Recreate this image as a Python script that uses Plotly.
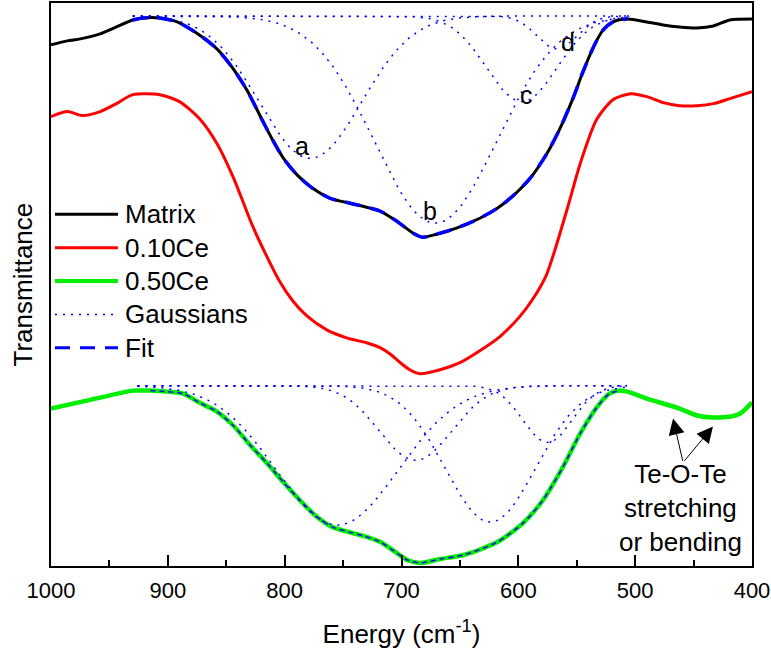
import numpy as np
import plotly.graph_objects as go

# ---------------- data ----------------
energy_matrix = [1000, 986, 975, 958, 944, 930, 921, 907, 892, 873, 858, 844, 832, 819, 810, 801,
                 789, 776, 761, 744, 733, 718, 704, 690, 682, 670, 653, 633, 618, 605, 590, 576,
                 564, 553, 545, 536, 528, 519, 507, 490, 476, 462, 447, 433, 419, 400]
trans_matrix = [523, 527, 529, 534, 541, 548, 550, 550, 546, 533, 519, 499, 477, 447, 427, 409,
                392, 379, 369, 364, 361, 356, 346, 334, 330, 333, 339, 349, 359, 371, 389, 413,
                440, 470, 495, 520, 537, 546, 549, 546, 543, 541, 540, 542, 548, 549]

energy_ce010 = [1000, 986, 973, 958, 944, 930, 907, 890, 873, 858, 844, 827, 815, 804, 793, 781,
                764, 747, 730, 718, 710, 701, 693, 684, 667, 650, 633, 616, 599, 587, 576, 569,
                558, 547, 533, 519, 504, 490, 476, 462, 447, 433, 419, 400]
trans_ce010 = [451, 456, 452, 456, 464, 473, 473, 466, 449, 424, 390, 340, 310, 285, 266, 251,
               237, 229, 224, 219, 213, 204, 197, 193, 197, 204, 216, 230, 250, 269, 292, 316,
               359, 404, 448, 468, 474, 471, 465, 462, 462, 464, 469, 476]

energy_ce050 = [1000, 958, 930, 915, 901, 887, 873, 858, 844, 830, 815, 801, 787, 773, 759, 745,
                732, 718, 704, 695, 684, 667, 647, 618, 596, 579, 562, 547, 533, 522, 513, 504,
                490, 462, 447, 433, 418, 410, 400]
trans_ce050 = [158, 169, 176, 176, 175, 173, 164, 155, 141, 122, 103, 84, 66, 50, 39, 34,
               30, 24, 13, 6, 3, 7, 11, 24, 43, 66, 99, 133, 159, 173, 176, 174,
               168, 158, 151, 149, 150, 153, 164]

# Gaussian components (centre cm-1, depth, sigma cm-1) and their baselines
gauss_top_center = [778, 671, 597, 567]
gauss_top_depth = [143, 208, 86, 33]
gauss_top_sigma = [43.7, 52.2, 30.0, 17.0]
gauss_top_base = 552
gauss_top_range = [930, 505]

gauss_bot_center = [755, 688, 624, 575]
gauss_bot_depth = [140, 75, 137, 57]
gauss_bot_sigma = [52.0, 31.0, 38.5, 21.0]
gauss_bot_base = 181
gauss_bot_range = [926, 507]

peak_labels = ["a", "b", "c", "d"]
x_ticks = [1000, 900, 800, 700, 600, 500, 400]

# ---------------- layout geometry ----------------
W, H = 771, 656
L, R, T, B = 51, 19, 1, 90
PW, PH = W - L - R, H - T - B
FONT = "Liberation Sans, Arial, sans-serif"
BLUE = "#0000FF"
SMOOTH = 0.7


def px_x(px):
    return (px - L) / PW


def px_y(py):
    return (T + PH - py) / PH


fig = go.Figure()

fig.add_trace(go.Scatter(x=energy_matrix, y=trans_matrix, mode="lines", name="Matrix",
                         line=dict(color="black", width=3, shape="spline", smoothing=SMOOTH)))
fig.add_trace(go.Scatter(x=energy_ce010, y=trans_ce010, mode="lines", name="0.10Ce",
                         line=dict(color="#FF0000", width=3, shape="spline", smoothing=SMOOTH)))
fig.add_trace(go.Scatter(x=energy_ce050, y=trans_ce050, mode="lines", name="0.50Ce",
                         line=dict(color="#00EE00", width=4.5, shape="spline", smoothing=SMOOTH)))


def gauss_traces(centers, depths, sigmas, base, rng):
    xs = np.linspace(rng[0], rng[1], 300)
    for c, d, s in zip(centers, depths, sigmas):
        ys = base - d * np.exp(-((xs - c) ** 2) / (2 * s ** 2))
        fig.add_trace(go.Scatter(x=xs, y=ys, mode="lines", name="Gaussians",
                                 line=dict(color=BLUE, width=1.5, dash="2px,6px")))


gauss_traces(gauss_top_center, gauss_top_depth, gauss_top_sigma, gauss_top_base, gauss_top_range)
gauss_traces(gauss_bot_center, gauss_bot_depth, gauss_bot_sigma, gauss_bot_base, gauss_bot_range)

# Fit curves coincide with the measured spectra over the fitted range
fit_top_x = [e for e in energy_matrix if gauss_top_range[1] <= e <= gauss_top_range[0]]
fit_top_y = [t for e, t in zip(energy_matrix, trans_matrix) if gauss_top_range[1] <= e <= gauss_top_range[0]]
fit_bot_x = [e for e in energy_ce050 if gauss_bot_range[1] <= e <= gauss_bot_range[0]]
fit_bot_y = [t for e, t in zip(energy_ce050, trans_ce050) if gauss_bot_range[1] <= e <= gauss_bot_range[0]]

fig.add_trace(go.Scatter(x=fit_top_x, y=fit_top_y, mode="lines", name="Fit",
                         line=dict(color=BLUE, width=3.5, dash="15px,10px", shape="spline", smoothing=SMOOTH)))
fig.add_trace(go.Scatter(x=fit_bot_x, y=fit_bot_y, mode="lines", name="Fit",
                         line=dict(color=BLUE, width=1.5, dash="5px,4px", shape="spline", smoothing=SMOOTH)))

# ---------------- manual legend ----------------
legend_items = [
    ("Matrix", dict(color="black", width=3)),
    ("0.10Ce", dict(color="#FF0000", width=3)),
    ("0.50Ce", dict(color="#00EE00", width=4)),
    ("Gaussians", dict(color=BLUE, width=1.5, dash="2px,6px")),
    ("Fit", dict(color=BLUE, width=3, dash="15px,10px")),
]
shapes = []
annotations = []
for i, (label, ln) in enumerate(legend_items):
    py = 213 + i * 33.5
    shapes.append(dict(type="line", xref="paper", yref="paper",
                       x0=px_x(55), x1=px_x(118), y0=px_y(py), y1=px_y(py), line=ln))
    annotations.append(dict(text=label, xref="paper", yref="paper", x=px_x(123), y=px_y(py),
                            xanchor="left", yanchor="middle", showarrow=False,
                            font=dict(family=FONT, size=26, color="black")))

# peak labels
label_pos = [(785, 421), (675.6, 356), (592.6, 473), (557.5, 526)]
for lab, (lx, ly) in zip(peak_labels, label_pos):
    annotations.append(dict(text=lab, x=lx, y=ly, xref="x", yref="y", showarrow=False,
                            font=dict(family=FONT, size=25, color="black")))

# Te-O-Te note and arrows
annotations.append(dict(text="Te-O-Te<br>stretching<br>or bending", x=461.6, y=58, xref="x", yref="y",
                        showarrow=False, align="center",
                        font=dict(family=FONT, size=26, color="black")))
for hx, hy in [(467.6, 148), (433.4, 140)]:
    annotations.append(dict(text="", x=hx, y=hy, ax=459, ay=104, xref="x", yref="y",
                            axref="x", ayref="y", showarrow=True, arrowhead=2,
                            arrowsize=3.2, arrowwidth=1, arrowcolor="black"))

# y-axis title
annotations.append(dict(text="Transmittance", xref="paper", yref="paper", x=px_x(22), y=0.5,
                        textangle=-90, showarrow=False, xanchor="center", yanchor="middle",
                        font=dict(family=FONT, size=26, color="black")))

fig.update_layout(
    width=W, height=H,
    margin=dict(l=L, r=R, t=T, b=B),
    paper_bgcolor="white", plot_bgcolor="white",
    showlegend=False,
    shapes=shapes,
    annotations=annotations,
    font=dict(family=FONT, color="black"),
)
fig.update_xaxes(
    range=[1000, 400], tickvals=x_ticks, ticks="inside", ticklen=11, tickwidth=2,
    tickcolor="black", showline=True, linecolor="black", linewidth=2, mirror=True,
    showgrid=False, zeroline=False, ticklabelstandoff=4,
    tickfont=dict(family=FONT, size=22, color="black"),
    minor=dict(tickvals=[950, 850, 750, 650, 550, 450], ticks="inside", ticklen=6,
               tickwidth=2, tickcolor="black", showgrid=False),
    title=dict(text="Energy (cm<sup>-1</sup>)", standoff=22,
               font=dict(family=FONT, size=26, color="black")),
)
fig.update_yaxes(
    range=[0, PH], showticklabels=False, ticks="", showline=True, linecolor="black",
    linewidth=2, mirror=True, showgrid=False, zeroline=False,
)

fig.write_html("out.html")
